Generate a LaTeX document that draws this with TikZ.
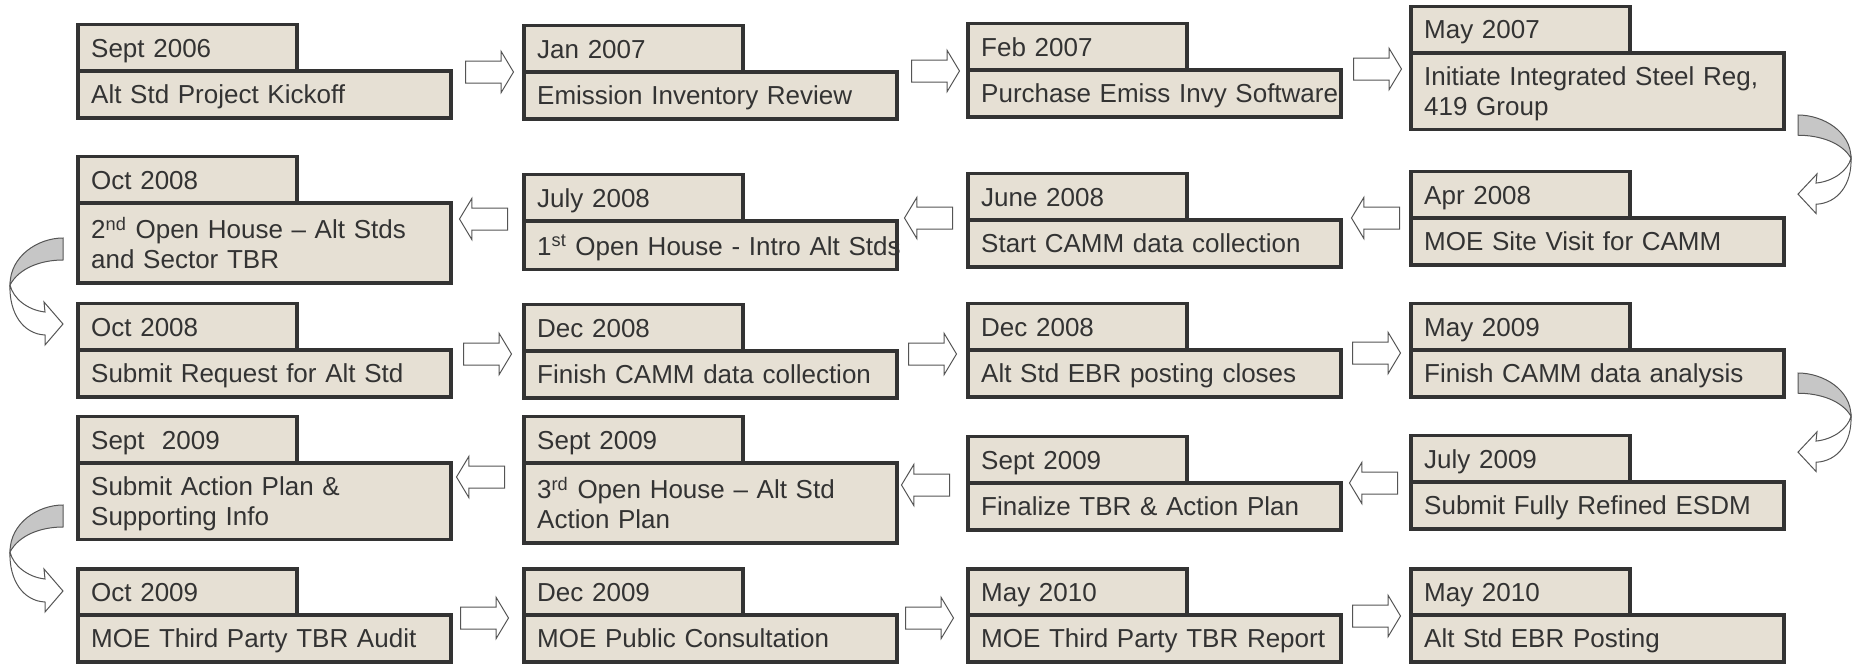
\documentclass[tikz,border=0pt]{standalone}
\usepackage{fontspec}
\setmainfont{Liberation Sans}
\usetikzlibrary{positioning}
\usetikzlibrary{shapes.arrows}
\definecolor{boxfill}{HTML}{E6E0D4}
\definecolor{boxline}{HTML}{333333}
\definecolor{txtgray}{HTML}{333333}
\definecolor{arrline}{HTML}{555555}
\def\datewd{96.3pt}
\def\eventwd{173.3pt}

\begin{document}
\begin{tikzpicture}[x=0.5pt,y=-0.5pt]
        \tikzstyle{box}=[rectangle, draw=boxline, fill=boxfill, line width=1.65pt, outer sep=0pt,
                font=\fontsize{13}{15}\selectfont, text=txtgray, inner xsep=6.6pt, inner ysep=7pt,
                text depth=0pt, align=left]
        \tikzstyle{date box}=[box, text width=\datewd, minimum height=23pt, anchor=south west]
        \tikzstyle{event box}=[box, text width=\eventwd, minimum height=23.5pt, anchor=north west]
        \tikzstyle{block arrow}=[single arrow, draw=arrline, fill=white, line width=0.5pt,
                minimum height=24pt, minimum width=0pt, inner xsep=0pt, inner ysep=5.25pt,
                single arrow head extend=4.75pt, single arrow tip angle=118, anchor=tail]
        \tikzstyle{turn back}=[draw=arrline, line width=0.5pt, fill=gray!45]
        \tikzstyle{turn front}=[draw=arrline, line width=0.5pt, fill=white]

        \useasboundingbox (0,0) rectangle (1860,664);

        % Draw the date and event boxes (\dep = depth below the first line)
        \foreach \name/\x/\y/\dep/\dt/\txt in {
                1/78/71/0pt/{Sept 2006}/{Alt Std Project Kickoff},
                2/524/72/0pt/{Jan 2007}/{Emission Inventory Review},
                3/968/70/0pt/{Feb 2007}/{\mbox{Purchase Emiss Invy Software}},
                4/1411/53/15pt/{May 2007}/{Initiate Integrated Steel Reg,\\419 Group},
                5/1411/218/0pt/{Apr 2008}/{MOE Site Visit for CAMM},
                6/968/220/0pt/{June 2008}/{Start CAMM data collection},
                7/524/221/0pt/{July 2008}/{\mbox{1\textsuperscript{st} Open House - Intro Alt Stds}},
                8/78/203/15pt/{Oct 2008}/{2\textsuperscript{nd} Open House – Alt Stds\\and Sector TBR},
                9/78/350/0pt/{Oct 2008}/{Submit Request for Alt Std},
                10/524/351/0pt/{Dec 2008}/{\mbox{Finish CAMM data collection}},
                11/968/350/0pt/{Dec 2008}/{Alt Std EBR posting closes},
                12/1411/350/0pt/{May 2009}/{Finish CAMM data analysis},
                13/1411/482/0pt/{July 2009}/{Submit Fully Refined ESDM},
                14/968/483/0pt/{Sept 2009}/{Finalize TBR \& Action Plan},
                15/524/463/15pt/{Sept 2009}/{3\textsuperscript{rd} Open House – Alt Std\\Action Plan},
                16/78/463/15pt/{Sept\ \ 2009}/{Submit Action Plan \&\\Supporting Info},
                17/78/615/0pt/{Oct 2009}/{MOE Third Party TBR Audit},
                18/524/615/0pt/{Dec 2009}/{MOE Public Consultation},
                19/968/615/0pt/{May 2010}/{\mbox{MOE Third Party TBR Report}},
                20/1411/615/0pt/{May 2010}/{Alt Std EBR Posting}}
        {
                \node[date box] (D-\name) at (\x,\y) {\dt};
                \node[event box, text depth=\dep] (E-\name) at (D-\name.south west) {\txt};
        }

        % Block arrows between the boxes
        \foreach \name/\x/\y/\rot in {1/465/72/0, 2/911/71/0, 3/1353/69/0,
                4/1400/218/180, 5/953/218/180, 6/508/219/180,
                7/463/354/0, 8/908/354/0, 9/1352/353/0,
                10/505/477/180, 11/950/485/180, 12/1398/483/180,
                13/460/618/0, 14/905/618/0, 15/1352/616/0}
            \node[block arrow, shape border rotate=\rot] (A-\name) at (\x,\y) {};

        % Curved arrows at the row ends
        \foreach \x/\y/\xs/\ys in {1798/115/1/0.92, 63/238/-1/1, 1798/373/1/0.92, 63/505/-1/1}
        {
            \begin{scope}[shift={(\x,\y)}, xscale=\xs, yscale=\ys]
                \path[turn back] (0,0) .. controls (25,0) and (53,18) .. (53,47)
                        .. controls (44,30) and (22,22) .. (0,22) -- cycle;
                \path[turn front] (53,47) .. controls (54,75) and (40,96) .. (18,97)
                        -- (18,107) -- (0,86) -- (19,64) -- (18,74)
                        .. controls (36,72) and (50,60) .. (53,47) -- cycle;
            \end{scope}
        }

\end{tikzpicture}
\end{document}
